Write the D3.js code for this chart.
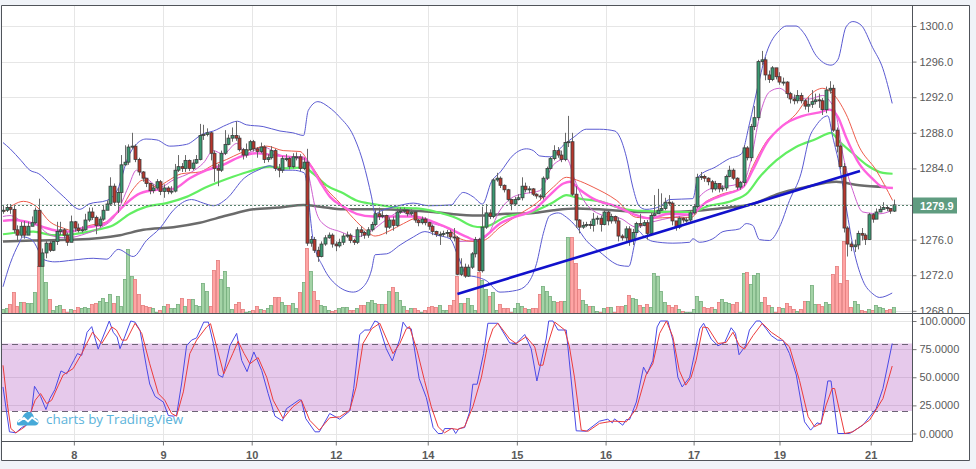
<!DOCTYPE html>
<html>
<head>
<meta charset="utf-8">
<script src="https://cdn.jsdelivr.net/npm/d3@7"></script>
<style>
  html, body { margin: 0; padding: 0; background: #f0f3f8; }
  svg { display: block; }
  text { font-family: "Liberation Sans", Arial, sans-serif; }
</style>
</head>
<body>
<script>
// hourly candles, one bar per number
var closes = [
  1279.3,1279.6,1279.4,1277.1,1276.5,1277.5,1276.5,1277.5,1277.9,1279.3,
  1273.0,1274.5,1275.6,1274.8,1275.8,1276.9,1277.1,1276.5,1275.7,1278.0,
  1277.3,1277.0,1277.1,1278.2,1279.1,1278.5,1277.6,1278.3,1279.3,1280.0,
  1282.0,1280.2,1281.3,1284.4,1284.7,1286.4,1286.5,1285.0,1283.6,1282.9,
  1282.3,1281.5,1281.8,1282.5,1281.4,1281.8,1281.4,1281.45,1283.8,1284.2,
  1284.0,1284.9,1284.0,1284.6,1285.0,1287.7,1287.8,1288.0,1285.7,1284.0,
  1283.8,1285.7,1286.7,1287.4,1287.7,1287.4,1286.1,1285.5,1286.1,1287.0,
  1286.2,1285.9,1286.4,1285.0,1285.2,1286.0,1284.0,1283.8,1285.1,1285.1,
  1284.2,1285.3,1285.3,1284.0,1284.7,1275.6,1276.0,1274.8,1274.1,1275.5,
  1276.2,1276.5,1275.5,1275.3,1275.7,1276.4,1276.5,1275.9,1275.7,1277.1,
  1276.8,1276.5,1277.1,1277.7,1278.9,1278.6,1278.7,1277.4,1278.2,1277.6,
  1279.1,1279.2,1279.3,1278.9,1279.1,1278.2,1277.9,1278.3,1277.9,1277.5,
  1276.9,1276.6,1276.6,1276.7,1276.8,1276.3,1276.2,1272.1,1272.9,1271.9,
  1272.9,1274.4,1276.0,1272.5,1277.4,1279.0,1278.6,1282.7,1282.9,1282.1,
  1281.6,1280.5,1280.0,1280.5,1280.7,1282.0,1281.6,1281.7,1281.1,1280.9,
  1280.8,1282.9,1284.0,1285.1,1286.0,1285.5,1285.0,1286.9,1287.0,1281.1,
  1278.2,1277.4,1277.6,1277.7,1277.6,1278.3,1278.4,1277.7,1279.1,1278.1,
  1278.6,1278.1,1276.4,1276.2,1277.2,1275.9,1276.8,1277.8,1277.6,1277.9,
  1276.7,1278.7,1278.9,1279.3,1279.5,1280.2,1280.1,1278.1,1277.4,1278.4,
  1278.2,1278.2,1279.0,1279.7,1283.0,1283.1,1282.9,1282.5,1281.7,1282.3,
  1281.7,1281.8,1283.1,1283.8,1282.9,1281.9,1282.4,1286.3,1285.2,1288.7,
  1289.7,1296.0,1296.2,1294.5,1294.0,1295.3,1294.3,1293.7,1293.7,1292.4,
  1291.8,1291.6,1292.2,1291.6,1291.0,1291.2,1291.5,1291.7,1291.6,1290.6,
  1292.8,1293.0,1288.3,1286.5,1284.2,1277.3,1275.5,1275.2,1275.4,1276.7,
  1276.5,1276.0,1278.8,1278.3,1279.1,1279.4,1279.6,1279.5,1279.2,1279.9
];
var highs = [
  1279.9,1280.0,1280.0,1279.9,1277.6,1278.0,1278.1,1278.0,1278.6,1279.6,
  1280.6,1275.0,1275.9,1276.0,1276.0,1278.0,1278.0,1277.3,1276.8,1278.7,
  1278.1,1277.8,1277.5,1278.9,1279.6,1279.6,1278.7,1278.6,1279.9,1280.4,
  1283.0,1282.3,1281.8,1285.5,1286.6,1286.7,1288.0,1286.7,1285.2,1283.7,
  1282.8,1282.4,1282.2,1282.8,1282.7,1282.2,1282.0,1282.0,1284.5,1285.5,
  1284.6,1285.5,1285.0,1285.0,1285.5,1289.0,1288.9,1288.5,1288.1,1286.0,
  1284.5,1286.0,1288.3,1287.8,1288.6,1289.3,1287.7,1286.3,1286.8,1287.2,
  1287.2,1286.4,1286.9,1286.6,1285.6,1286.5,1286.2,1284.5,1285.4,1285.6,
  1285.3,1285.7,1285.8,1285.6,1285.2,1286.2,1276.4,1276.3,1275.2,1275.8,
  1276.5,1276.8,1276.7,1275.8,1276.1,1276.7,1276.9,1276.7,1276.1,1277.4,
  1277.5,1277.0,1277.4,1278.0,1279.5,1279.6,1279.2,1278.8,1278.5,1278.6,
  1279.5,1279.6,1279.6,1279.4,1279.4,1279.3,1278.3,1278.6,1278.5,1278.0,
  1277.7,1277.0,1276.9,1277.0,1277.1,1277.1,1277.3,1276.4,1273.9,1273.3,
  1273.2,1274.6,1276.3,1276.2,1279.7,1280.0,1279.4,1282.9,1283.5,1283.1,
  1282.2,1281.7,1280.6,1280.8,1281.1,1283.0,1282.4,1282.0,1281.8,1281.2,
  1281.1,1283.1,1284.2,1285.3,1286.6,1286.4,1286.0,1288.0,1289.9,1288.0,
  1282.0,1278.3,1278.0,1278.0,1278.1,1279.0,1278.7,1278.7,1279.4,1279.3,
  1278.9,1278.7,1278.5,1276.6,1277.5,1277.5,1277.2,1278.0,1278.9,1278.2,
  1278.2,1279.0,1281.0,1281.7,1281.2,1280.7,1281.0,1280.3,1277.8,1278.6,
  1278.5,1278.5,1279.2,1280.0,1283.4,1283.6,1283.3,1283.0,1282.7,1282.6,
  1282.3,1282.1,1283.3,1284.3,1284.0,1283.0,1282.6,1286.6,1286.5,1289.0,
  1291.0,1296.2,1297.2,1296.5,1295.0,1295.5,1295.2,1294.8,1294.2,1293.8,
  1292.6,1292.3,1292.8,1292.5,1291.8,1292.0,1292.8,1292.4,1292.4,1291.9,
  1293.2,1293.8,1293.4,1288.6,1286.7,1284.6,1277.5,1275.8,1276.0,1277.0,
  1277.3,1276.7,1279.0,1279.0,1279.5,1279.8,1280.2,1279.8,1279.5,1280.5
];
var lows = [
  1278.9,1279.1,1278.9,1276.7,1275.9,1276.2,1276.1,1276.9,1277.5,1277.7,
  1273.0,1273.3,1273.9,1274.6,1274.7,1275.4,1276.5,1276.1,1275.3,1276.1,
  1276.9,1276.8,1276.8,1277.0,1278.0,1278.2,1276.6,1277.4,1278.1,1279.6,
  1279.9,1279.9,1279.0,1280.1,1284.3,1284.4,1286.2,1284.7,1283.2,1282.5,
  1281.9,1281.1,1281.2,1281.6,1281.0,1280.7,1281.1,1281.1,1281.3,1283.6,
  1283.6,1283.6,1283.7,1283.8,1284.5,1284.9,1287.2,1287.6,1284.9,1282.5,
  1282.0,1283.6,1285.5,1286.6,1287.0,1287.1,1285.9,1285.0,1285.2,1285.9,
  1285.9,1285.2,1285.7,1284.6,1284.7,1285.0,1283.7,1283.0,1283.5,1284.8,
  1283.9,1284.0,1284.9,1283.7,1283.8,1275.3,1275.2,1274.5,1273.5,1274.0,
  1275.3,1276.1,1275.1,1274.7,1275.1,1275.4,1276.2,1275.6,1275.4,1275.5,
  1276.3,1276.1,1276.2,1276.9,1277.5,1278.2,1278.4,1276.6,1277.2,1277.0,
  1277.4,1278.9,1279.0,1278.6,1278.7,1277.9,1277.5,1277.7,1277.6,1277.1,
  1276.5,1276.3,1275.4,1276.3,1276.3,1276.0,1275.8,1272.0,1271.9,1271.7,
  1271.8,1272.7,1274.0,1272.4,1272.3,1277.2,1278.3,1278.4,1282.5,1281.8,
  1281.3,1280.3,1279.3,1279.8,1280.4,1280.4,1281.3,1281.2,1280.9,1280.6,
  1280.4,1280.5,1282.7,1283.9,1284.9,1285.2,1284.7,1284.8,1286.4,1280.9,
  1277.3,1276.7,1277.2,1277.4,1277.2,1276.9,1277.7,1276.9,1277.6,1277.6,
  1277.8,1277.8,1275.8,1275.9,1275.7,1275.3,1275.4,1276.7,1277.3,1277.5,
  1276.0,1276.4,1278.6,1278.9,1279.2,1279.3,1279.8,1277.6,1277.0,1277.2,
  1277.9,1277.9,1278.0,1278.8,1279.5,1282.7,1282.5,1282.1,1281.3,1281.5,
  1281.3,1281.4,1281.5,1283.0,1282.7,1281.6,1281.6,1282.0,1284.9,1284.8,
  1288.3,1289.4,1295.6,1293.9,1293.6,1293.8,1294.0,1293.4,1293.3,1291.9,
  1291.3,1291.2,1291.3,1291.3,1290.6,1290.3,1290.8,1291.2,1290.8,1290.0,
  1290.2,1292.4,1288.1,1285.8,1283.9,1276.8,1274.1,1274.7,1274.6,1274.9,
  1275.9,1275.4,1276.0,1277.9,1278.7,1279.2,1279.4,1279.2,1278.9,1279.1
];
var volumes = [
  4,5,9,21,7,11,11,10,10,21,
  47,48,31,14,3,7,8,4,1,4,
  3,6,5,6,5,9,10,12,15,11,
  19,10,17,7,34,64,37,34,19,8,
  7,6,5,1,3,7,9,5,5,9,
  15,7,14,14,8,7,30,22,7,43,
  53,34,42,26,4,9,11,4,1,2,
  3,7,4,3,5,8,16,16,11,8,
  8,10,5,21,31,65,42,22,13,8,
  7,3,2,3,5,6,6,3,3,5,
  8,8,11,13,10,9,9,9,22,26,
  21,13,7,3,5,5,3,1,3,6,
  7,6,8,3,3,8,13,37,10,10,
  15,8,3,41,33,24,17,21,3,9,
  5,5,1,5,10,7,5,4,5,5,
  19,27,22,17,12,11,12,12,76,76,
  50,24,13,9,7,7,2,1,5,6,
  6,1,7,7,8,18,15,14,8,6,
  9,6,40,37,22,11,8,6,8,4,
  2,1,1,4,17,12,6,5,6,4,
  11,14,11,10,9,11,1,40,41,29,
  38,40,11,16,8,6,1,6,5,10,
  7,4,2,4,12,12,28,9,9,7,
  11,9,39,47,30,72,33,6,12,9,
  3,2,4,3,8,6,5,3,4,6
];

// indicator lines, [bar, value] readings
var bbUpper = [[0,1286.9],[2,1286.2],[5,1284.9],[7.5,1283.8],[10,1283.4],[13,1282.3],[17,1280.8],[21.5,1279.4],[24,1280],[29,1280.4],[32,1281.6],[35,1285.3],[37,1286.6],[40,1287.3],[43,1287.2],[46.6,1286.5],[51.3,1286.7],[56,1287.9],[58.8,1288.2],[62.5,1288.9],[65.5,1289.3],[68,1288.9],[72.7,1288.7],[77.4,1288.2],[81,1288],[84,1287.7],[85.3,1290.5],[88,1291.5],[91,1290.9],[94,1289.8],[98,1287.6],[100.7,1284.6],[103,1280.8],[104,1278.9],[105.5,1279.2],[110.5,1279.8],[114.7,1280.1],[119,1279.8],[125.4,1279.9],[126.8,1280.6],[128.6,1281.3],[131.4,1280.8],[134,1280],[136.5,1282.5],[139,1283.6],[142.6,1285.5],[146.3,1286.2],[148.2,1286],[150,1285.4],[153,1285.3],[156.6,1286.6],[159.8,1287.6],[163,1288.4],[166.8,1288.4],[171,1288.2],[172.4,1287.5],[174.2,1285.3],[176,1281.9],[177.9,1279.7],[179.7,1279.4],[183.5,1279.7],[186.3,1280.5],[192.8,1280.6],[194.2,1283],[199.3,1284.2],[203,1285.1],[206.3,1285.6],[208.6,1289],[211,1293.3],[213.3,1296.9],[217,1299.5],[218.9,1300],[221.6,1300],[224,1299.1],[227.2,1296.7],[231.4,1295.6],[233.3,1296.2],[235.6,1299.9],[237.5,1300.5],[239.8,1300.1],[243,1297.6],[245.9,1295.2],[248.5,1291.3]];
var bbLower = [[0,1270.7],[2,1273.3],[4.5,1275.6],[5.5,1276.3],[8,1276],[11.7,1273.7],[14.5,1273.5],[19.6,1273.7],[25.2,1273.9],[29,1273.8],[32.2,1274.9],[36.4,1274.1],[40.1,1275.9],[43.9,1277.3],[47.6,1279.3],[52.7,1280.5],[56,1280.1],[58.8,1279.8],[62.5,1280.6],[67.4,1282.9],[71.8,1283.9],[74.6,1284.3],[77.4,1283.8],[81,1283.8],[84.2,1283.5],[86.7,1275.9],[89.5,1272.9],[93.2,1270.9],[97.9,1270.1],[100.7,1270.7],[103,1272.6],[104,1274.3],[107.2,1274.4],[111,1275.4],[114.7,1276.3],[117.9,1276.9],[121.2,1276.5],[124.9,1276.1],[127.2,1274.1],[129.6,1272],[132.3,1271.8],[135,1271.4],[138.9,1270.1],[143.5,1270.3],[146.3,1270.9],[149.1,1273.3],[151,1276.7],[152.8,1278.7],[155.2,1279],[157.5,1278.5],[160.3,1277.4],[163,1275.9],[166.8,1274.6],[172.4,1273.1],[174.9,1273],[176.5,1275.5],[177.4,1277],[179.3,1276.3],[181.6,1275.8],[187.2,1275.6],[191.9,1275.7],[192.8,1276.1],[194.6,1275.7],[198.4,1276.1],[201.2,1276.9],[205.8,1277.2],[207.7,1277.8],[209.5,1277.6],[211.4,1276],[214.2,1275.9],[217,1277.4],[219.8,1280.4],[223,1283.4],[225.4,1287.5],[227.2,1288.8],[230.5,1289.9],[231.9,1287.5],[233.8,1284.2],[235.6,1279.7],[238,1274.4],[240.3,1271.4],[243.1,1269.9],[245,1269.5],[248.5,1270]];
var bbMiddle = [[0,1278.6],[2,1278.7],[5.7,1278],[9.4,1277.8],[11.7,1276.9],[15,1276.3],[17.9,1276.2],[23.4,1276.7],[27,1277.3],[31.7,1278.9],[35,1281.9],[37.3,1283.8],[40.1,1282.9],[43.9,1281.9],[47.6,1282.7],[52.7,1283.6],[56,1284.6],[58.8,1286],[61.5,1285.6],[65.3,1286.8],[68,1285.7],[72.7,1286.4],[77.4,1285.5],[84,1285],[85.3,1283.4],[87.7,1278.9],[90,1277.6],[94.2,1276.9],[98.8,1276.3],[103,1277],[107,1278.2],[111,1279.1],[115.1,1278.6],[120.2,1277.8],[124.9,1277.1],[127.7,1275.8],[132.3,1275.9],[135,1276.3],[138.9,1279.3],[142.6,1280.8],[146.3,1281.2],[150,1281.5],[153.8,1284.4],[157.5,1285.1],[159.8,1282.7],[163,1280],[168.7,1278.6],[172.4,1278.4],[177,1277.4],[181.6,1278],[187.2,1278.5],[192.3,1278.9],[194.6,1280.8],[199.3,1281.9],[204,1282.1],[207.2,1282.7],[209,1284.9],[211.4,1289.8],[214.2,1292.6],[217,1293],[220.7,1292],[225.4,1291.8],[229.1,1292.2],[231,1291.6],[232.8,1290.1],[234.7,1285.6],[237.5,1281.5],[240.3,1279.1],[245,1278.9],[248.5,1279.3]];
var emaRed = [[0,1279],[2.9,1279.9],[5.7,1280.3],[9.4,1279.7],[13.1,1278],[16.8,1277.3],[19.6,1277],[24.3,1277.6],[29,1278],[32.7,1279.3],[36.4,1281.7],[39.2,1282.7],[43,1281.9],[45.7,1282.5],[49.9,1283.4],[55,1283.6],[58.8,1284.4],[62.5,1285],[66.2,1285.7],[70,1286.2],[73.7,1286.5],[78.3,1286],[83,1285.9],[85.3,1284.8],[87.7,1283.4],[90.4,1281.7],[94.2,1280.1],[97,1278.8],[100.7,1277.3],[104,1276.4],[108.1,1277],[111.9,1277.8],[115.6,1278.4],[120.2,1278],[124.9,1277.1],[127.7,1276.1],[131.4,1275.8],[134.2,1275.9],[138.9,1277.4],[144.5,1278.9],[149.1,1280.1],[153.8,1281.9],[157.5,1283],[160.3,1282.7],[164.9,1281.9],[171.5,1280.4],[177,1278.5],[181.6,1278.4],[187.2,1278.5],[192.3,1278.5],[195.6,1280],[200.2,1281],[206.8,1281.9],[209.5,1284.2],[213.3,1287],[217.9,1288.8],[221.6,1290.1],[225.4,1292.2],[229.1,1293],[231.9,1292.4],[235.6,1290.1],[239.3,1286.4],[244,1283.8],[248.6,1280.4]];
var emaMagenta = [[0,1278.1],[3,1278.2],[8.5,1277.8],[11.3,1277.4],[15,1277],[18.7,1276.9],[22.4,1277.3],[28,1277.7],[30.8,1278.6],[34.5,1280.1],[38.3,1281.2],[43,1281.6],[47.6,1281.7],[52.2,1282.9],[56.9,1283.8],[61.5,1284.4],[66.2,1285.3],[70.9,1285.7],[75.5,1285.5],[80.2,1285.3],[84,1285.2],[85.8,1284.4],[88.6,1282.5],[91.4,1280.8],[95.1,1279.7],[98.8,1278.9],[103.5,1278.6],[109,1278.6],[114.7,1278.6],[120.2,1278],[124.9,1277.2],[129.6,1276.3],[132.3,1275.9],[135.1,1276.5],[138.9,1277.8],[143.5,1278.6],[148.2,1279.3],[152.8,1281],[156.6,1282.3],[158.4,1282.5],[161.2,1281.6],[164.9,1280.6],[171.5,1279.7],[176,1278.9],[180.7,1278.4],[186.3,1278.9],[191.9,1278.8],[196.5,1280.2],[201.2,1281],[206.8,1281.9],[209.5,1283.8],[213.3,1286.8],[217.9,1288.8],[223.5,1289.9],[228.2,1290.3],[231,1290.6],[233.3,1289.8],[235.6,1287.5],[239.3,1284.5],[243.1,1282.8],[245.9,1281.9],[248.7,1281.8]];
var emaGreen = [[0,1276.6],[4,1276.8],[8.5,1276.9],[14,1276.5],[19.6,1276.6],[26.2,1277.1],[30.8,1277.6],[35.5,1278.9],[40.1,1279.7],[45.7,1280.1],[51.3,1280.8],[56.9,1281.9],[62.5,1282.8],[68.3,1283.6],[74.6,1284.2],[79.2,1284],[84.2,1284.1],[86.7,1283.4],[90.4,1282.1],[95.1,1281.2],[98.8,1280.4],[103.5,1280],[110,1279.6],[115.6,1279.5],[121.2,1279.1],[126.8,1278.4],[131.4,1277.5],[133.7,1277.4],[136,1277.6],[140.7,1278.6],[147.2,1279],[153.8,1280.2],[157.5,1281],[161.2,1280.6],[166.8,1280.3],[172,1279.6],[176,1279.3],[180.7,1279.2],[186.3,1279.1],[192.8,1279.1],[196.5,1279.7],[204,1280.4],[208.2,1281.3],[211.4,1283],[216.1,1284.9],[221.6,1286.4],[227.2,1287.3],[231.4,1288],[233.8,1287],[237.5,1285.7],[241.7,1284.3],[245.9,1283.5],[248.6,1283.4]];
var maGray = [[0,1275.8],[8.5,1275.9],[20.6,1276],[32.7,1276.5],[39.2,1277.1],[47.6,1277.4],[55,1277.9],[62.5,1278.7],[70,1279.4],[77.4,1279.6],[84,1279.9],[88.6,1279.7],[95.1,1279.4],[104.4,1279.4],[112.8,1279.3],[120.2,1279.1],[127.7,1278.8],[134.2,1278.7],[140.7,1278.9],[148.2,1279],[153.8,1279.3],[160.3,1279.5],[172.4,1279.25],[177.9,1279.1],[186.3,1279.1],[192.8,1279.2],[200.2,1279.5],[209.5,1280],[217,1281.2],[224.4,1281.9],[232.8,1282.5],[239.3,1282.1],[246.8,1281.9]];
var trendLine = [[127.0,1269.9],[239.5,1283.7]];

var stochK = [[0,41.4],[1.8,1.5],[3.6,0.6],[5.2,5.3],[6.6,7.4],[8,20.7],[8.8,42],[10.5,33],[12,21.3],[13.1,31],[14.5,39],[16.2,55.6],[17.8,53],[19.8,65],[20.8,71],[22,69.5],[23.5,90],[24.8,95],[26.6,75],[29.7,100],[30.8,90],[31.9,85.8],[32.7,75.4],[34,85.8],[35.7,100],[36.9,99],[38.3,91.7],[40.1,59],[41,44],[42.5,33],[44.8,28],[46.2,16],[47.6,15.4],[48.5,16.3],[49.9,44],[51.3,78],[52.7,83],[54.1,85],[56.1,99],[57.4,99],[58.8,80],[60.2,52],[61.4,50],[63.4,78],[65.3,89],[66.7,65],[68.2,55],[70.1,72.5],[72.3,56],[74.1,35.5],[76,15.4],[78.1,11.2],[79.2,22],[82.8,30],[83.4,29.6],[84.6,13.3],[87.2,1.5],[88.4,1.5],[91.3,17.8],[94.1,12.7],[96.9,20],[98,40],[99.7,88],[101.1,92],[102.5,92],[103.9,100],[104.8,99],[107.1,75.4],[108.8,64.5],[110.9,84],[111.8,99],[112.9,94],[114.1,93],[116.3,48.8],[118.3,32],[120.2,5.3],[121.6,0],[122.8,0],[123.4,4.4],[125.7,4.4],[126.5,0],[127.4,4.4],[129,5.3],[130.4,19.2],[131.3,43.8],[132.5,43.8],[134.3,71],[135.5,98],[138.3,98],[141.6,80.5],[143.4,80],[145.8,88],[147.6,75.4],[149.2,46.7],[151.8,84],[152.5,100],[153.7,100],[155.1,92],[157.4,92],[160.2,2.4],[163,2],[166.7,11],[169,12.7],[170.3,9.5],[170.9,13],[173.2,7.4],[174.2,12.4],[175.1,12.4],[177,28],[179,59],[180,53],[181.6,65],[182.8,94.7],[183.7,100],[185.8,100],[187.2,83],[188.6,50],[189.8,41.4],[191.9,50],[194.7,93],[195.8,98],[197.9,84],[199.8,78],[201.7,81],[203.5,94],[204.7,89],[205.7,70],[207.5,78],[208.6,92],[210.5,100],[211.6,100],[213.3,93],[214.7,87],[216.5,83],[218,82.8],[219.8,71],[221.7,52],[224,10.4],[225.7,3],[227.5,9.5],[228.6,8.3],[230.5,46.7],[231.4,46.7],[233.3,0],[236.6,0],[240.3,7.4],[244,22],[245.9,40],[248.5,80]];
var stochD = [[0,60.6],[1.2,26.6],[2.2,4.4],[3.6,0.6],[6.1,6],[8,21],[9,29.6],[10.5,35.5],[12.2,26.6],[13.6,29.6],[15.5,43],[16.8,52],[19.6,57.7],[22,71],[23.4,80],[25,90],[27.6,80],[30.4,94.7],[31.7,92],[33.2,83],[34.5,83],[36.9,98],[38.8,88.8],[41,62],[43.4,35.5],[45.2,29.6],[47.1,17.8],[48.5,15.4],[50.4,37],[52.2,71],[54.1,83],[56.9,94.7],[58,97.6],[59.7,77],[61.7,53],[64.2,71],[65.7,82],[67.4,71],[69,62],[71.3,67.5],[73.7,50],[75.5,29.6],[78.3,13.3],[81,23.7],[83.4,29.6],[85.7,11.8],[88.4,3],[91.3,14],[94.1,14.8],[96.9,20.7],[98.7,41.4],[100.6,80],[103,93],[105.3,98],[107.6,81],[109,71],[110.9,80],[112.7,93],[113.6,95],[115.7,74],[117.8,47],[119.7,23.7],[121.6,6],[123.4,0.6],[125.3,4.4],[127.1,3.6],[129,6],[131.3,23.7],[133.7,50],[135.5,80],[136.9,93],[138.3,98],[141.6,84],[143.4,80],[146.2,86],[148.6,77],[149.8,60.7],[150.9,60.7],[152.3,80],[154.2,99],[157,92],[158.3,77],[159.7,50],[161.6,3],[163.5,2],[166.7,9],[170.4,11],[174.2,10.4],[177,22],[179.7,52],[181.6,62],[183.5,89],[185.4,100],[187.2,86],[189,56],[190.8,43],[192.3,50],[193.7,65],[195.6,94.7],[197,94],[199.8,80],[202.1,81],[204,90],[205.8,78],[207.2,75],[209.6,87],[212.2,98],[214.7,90],[217.5,84],[219.8,77],[222.6,47],[225,15],[226.8,6],[228.6,9],[230,25],[231.7,40],[232.4,40],[235.2,0],[237.5,1.5],[242.2,12],[245.9,31],[248.5,60]];

var priceTicks = [1268,1272,1276,1280,1284,1288,1292,1296,1300];
var stochTicks = [0,25,50,75,100];
var dayBars = [19.8,44.7,69.5,93,118.7,143.6,168.4,193,217,242.5];
var dayLabels = ['8','9','10','12','14','15','16','17','19','21'];
var bandLevels = [20,80];

var width = 976, height = 469;
var plotLeft = 2, plotRight = 912, frameRight = 969, frameBottom = 460;
var priceTop = 6, priceBottom = 313, stochBottom = 441;

var x = d3.scaleLinear().domain([0, 249]).range([3, 894]);
var y = d3.scaleLinear().domain([1268, 1300]).range([310.8, 26]);
var yVol = d3.scaleLinear().domain([0, 100]).range([313.5, 213.5]);
var yStoch = d3.scaleLinear().domain([0, 100]).range([433.5, 321]);

var svg = d3.select('body').append('svg')
  .attr('width', width)
  .attr('height', height);

svg.append('rect')
  .attr('x', 1.5).attr('y', 5.5)
  .attr('width', frameRight - 1.5).attr('height', frameBottom - 5.5)
  .attr('fill', '#fff');

svg.append('clipPath').attr('id', 'priceClip').append('rect')
  .attr('x', plotLeft).attr('y', priceTop)
  .attr('width', plotRight - plotLeft).attr('height', priceBottom - priceTop);

// grid lines
var gridColor = '#e6e6e6';
var drawGrid = function(top, bottom, scale, ticks) {
  var g = svg.append('g');
  g.selectAll('.v').data(dayBars).enter().append('line')
    .attr('x1', function(d) { return Math.round(x(d)) + 0.5; })
    .attr('x2', function(d) { return Math.round(x(d)) + 0.5; })
    .attr('y1', top).attr('y2', bottom)
    .attr('stroke', gridColor);
  g.selectAll('.h').data(ticks).enter().append('line')
    .attr('x1', plotLeft).attr('x2', plotRight)
    .attr('y1', function(d) { return Math.round(scale(d)) + 0.5; })
    .attr('y2', function(d) { return Math.round(scale(d)) + 0.5; })
    .attr('stroke', gridColor);
};
drawGrid(priceTop, priceBottom, y, priceTicks);

var pricePane = svg.append('g').attr('clip-path', 'url(#priceClip)');

// volume
var isUp = function(i) {
  var open = i === 0 ? closes[0] : closes[i - 1];
  return closes[i] >= open;
};
pricePane.append('g').selectAll('rect').data(volumes).enter().append('rect')
  .attr('x', function(d, i) { return Math.round(x(i)) - 1.5; })
  .attr('width', 3)
  .attr('y', function(d) { return yVol(d); })
  .attr('height', function(d) { return yVol(0) - yVol(d); })
  .attr('fill', function(d, i) { return isUp(i) ? '#a3d3a6' : '#ffa4a4'; })
  .attr('stroke', function(d, i) { return isUp(i) ? '#74ad7c' : '#e47d7d'; })
  .attr('stroke-width', 0.8);

// price lines under the candles
var priceLine = d3.line()
  .x(function(d) { return x(d[0]); })
  .y(function(d) { return y(d[1]); })
  .curve(d3.curveMonotoneX);

var addLine = function(data, color, w) {
  pricePane.append('path')
    .attr('d', priceLine(data))
    .attr('fill', 'none')
    .attr('stroke', color)
    .attr('stroke-width', w);
};

addLine(maGray, '#6b6b6b', 2.5);
addLine(emaGreen, '#62ee62', 2.2);
addLine(bbUpper, '#5a5ad2', 1);
addLine(bbLower, '#5a5ad2', 1);
addLine(bbMiddle, '#cf5fd0', 1);
addLine(emaRed, '#ee5c4c', 1);
addLine(emaMagenta, '#ff62de', 2.4);

// candles
var candles = pricePane.append('g').selectAll('g').data(closes).enter().append('g');
candles.append('line')
  .attr('x1', function(d, i) { return Math.round(x(i)) + 0.5; })
  .attr('x2', function(d, i) { return Math.round(x(i)) + 0.5; })
  .attr('y1', function(d, i) { return y(highs[i]); })
  .attr('y2', function(d, i) { return y(lows[i]); })
  .attr('stroke', '#6a6a6a');
candles.append('rect')
  .attr('x', function(d, i) { return Math.round(x(i)) - 1; })
  .attr('width', 3)
  .attr('y', function(d, i) {
    var open = i === 0 ? closes[0] : closes[i - 1];
    return Math.min(y(open), y(d));
  })
  .attr('height', function(d, i) {
    var open = i === 0 ? closes[0] : closes[i - 1];
    return Math.max(1, Math.abs(y(open) - y(d)));
  })
  .attr('fill', function(d, i) { return isUp(i) ? '#3a9a72' : '#b8362c'; })
  .attr('stroke', '#3c3c3c')
  .attr('stroke-width', 0.8);

// trend line
pricePane.append('path')
  .attr('d', d3.line().x(function(d) { return x(d[0]); }).y(function(d) { return y(d[1]); })(trendLine))
  .attr('fill', 'none')
  .attr('stroke', '#1111cc')
  .attr('stroke-width', 2.6);

// last price
var lastPrice = closes[closes.length - 1];
svg.append('line')
  .attr('x1', plotLeft).attr('x2', plotRight)
  .attr('y1', Math.round(y(lastPrice)) + 0.5).attr('y2', Math.round(y(lastPrice)) + 0.5)
  .attr('stroke', '#55806c')
  .attr('stroke-dasharray', '2,2');

// price axis
svg.append('clipPath').attr('id', 'priceAxisClipLocal').append('rect')
  .attr('x', 0).attr('y', priceTop).attr('width', 60).attr('height', priceBottom - priceTop);
var priceAxis = svg.append('g')
  .attr('transform', 'translate(' + (plotRight + 0.5) + ',0)')
  .attr('clip-path', 'url(#priceAxisClipLocal)')
  .call(d3.axisRight(y).tickValues(priceTicks).tickSize(4).tickFormat(d3.format('.1f')));

// stochastic pane
drawGrid(priceBottom, stochBottom, yStoch, stochTicks);

svg.append('rect')
  .attr('x', plotLeft).attr('width', plotRight - plotLeft)
  .attr('y', yStoch(bandLevels[1]))
  .attr('height', yStoch(bandLevels[0]) - yStoch(bandLevels[1]))
  .attr('fill', '#9c27b0').attr('fill-opacity', 0.25);
svg.append('g').selectAll('line').data(bandLevels).enter().append('line')
  .attr('x1', plotLeft).attr('x2', plotRight)
  .attr('y1', function(d) { return Math.round(yStoch(d)) + 0.5; })
  .attr('y2', function(d) { return Math.round(yStoch(d)) + 0.5; })
  .attr('stroke', '#6e6377')
  .attr('stroke-dasharray', '6,4');

var stochLine = d3.line()
  .x(function(d) { return x(d[0]); })
  .y(function(d) { return yStoch(d[1]); });

svg.append('path').attr('d', stochLine(stochK))
  .attr('fill', 'none').attr('stroke', '#4a4ae6').attr('stroke-width', 1);
svg.append('path').attr('d', stochLine(stochD))
  .attr('fill', 'none').attr('stroke', '#ec3c3c').attr('stroke-width', 1);

var stochAxis = svg.append('g')
  .attr('transform', 'translate(' + (plotRight + 0.5) + ',0)')
  .call(d3.axisRight(yStoch).tickValues(stochTicks).tickSize(4).tickFormat(d3.format('.4f')));

var timeAxis = svg.append('g')
  .attr('transform', 'translate(0,' + (stochBottom + 0.5) + ')')
  .call(d3.axisBottom(x).tickValues(dayBars).tickSize(4)
    .tickFormat(function(d, i) { return dayLabels[i]; }));

[priceAxis, stochAxis, timeAxis].forEach(function(a) {
  a.select('.domain').remove();
  a.selectAll('line').attr('stroke', '#777');
  a.selectAll('text')
    .attr('fill', '#5a5a5a')
    .style('font-size', '11px')
    .style('font-family', '"Liberation Sans", Arial, sans-serif');
});
timeAxis.selectAll('text').style('font-weight', 'bold').attr('dy', '0.95em');

// last price label
svg.append('rect')
  .attr('x', plotRight).attr('y', Math.round(y(lastPrice)) - 7.5)
  .attr('width', 45).attr('height', 16)
  .attr('fill', '#5f9c80');
svg.append('text')
  .attr('x', plotRight + 8).attr('y', Math.round(y(lastPrice)) + 4.5)
  .attr('fill', '#fff')
  .style('font-size', '11px')
  .style('font-weight', 'bold')
  .text(d3.format('.1f')(lastPrice));

// frame
var frameColor = '#50545a';
var frameLines = [
  [1.5, 5.5, frameRight + 0.5, 5.5],
  [1.5, 5.5, 1.5, frameBottom + 0.5],
  [frameRight + 0.5, 5.5, frameRight + 0.5, frameBottom + 0.5],
  [1.5, frameBottom + 0.5, frameRight + 0.5, frameBottom + 0.5],
  [1.5, priceBottom + 0.5, frameRight + 0.5, priceBottom + 0.5],
  [1.5, stochBottom + 0.5, plotRight + 0.5, stochBottom + 0.5],
  [plotRight + 0.5, 5.5, plotRight + 0.5, stochBottom + 0.5]
];
svg.append('g').selectAll('line').data(frameLines).enter().append('line')
  .attr('x1', function(d) { return d[0]; })
  .attr('y1', function(d) { return d[1]; })
  .attr('x2', function(d) { return d[2]; })
  .attr('y2', function(d) { return d[3]; })
  .attr('stroke', frameColor)
  .attr('stroke-width', 1);

// TradingView watermark
var logo = svg.append('g').attr('transform', 'translate(17,411)');
logo.append('path')
  .attr('d', 'M0,13 C0,9 3,8 5,8 C6,3 10,0 13,1 C16,2 17,6 17,7 C20,7 21.5,9 21.5,11 C21.5,13 20,14.5 18,14.5 L3,14.5 C1.5,14.5 0,14 0,13 Z')
  .attr('fill', '#46a9d8');
logo.append('path')
  .attr('d', 'M1,11 L7,7 L11,10.5 L15,6.5 L21,11')
  .attr('fill', 'none')
  .attr('stroke', '#fff')
  .attr('stroke-width', 1.8);
svg.append('text')
  .attr('x', 46).attr('y', 424)
  .attr('fill', '#5cb3da')
  .style('font-family', '"Open Sans", sans-serif')
  .style('font-size', '13.4px')
  .text('charts by TradingView');
</script>
</body>
</html>
